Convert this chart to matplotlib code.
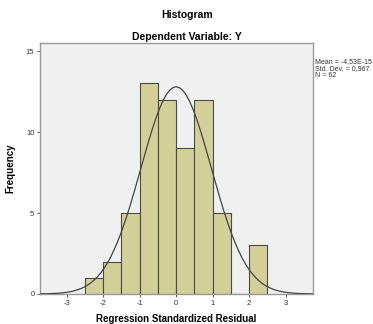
import numpy as np
import matplotlib.pyplot as plt

plt.rcParams['font.family'] = ['Liberation Sans', 'DejaVu Sans']

# histogram of the regression residuals
bin_edges = [-2.5, -2.0, -1.5, -1.0, -0.5, 0.0, 0.5, 1.0, 1.5, 2.0, 2.5]
counts = [1, 2, 5, 13, 12, 9, 12, 5, 0, 3]
mean = -4.53e-15
std = 0.967
n = 62
x_ticks = [-3, -2, -1, 0, 1, 2, 3]
y_ticks = [0, 5, 10, 15]

fig = plt.figure(figsize=(3.73, 3.24), dpi=100)
ax = fig.add_axes([40/373, 1 - 294/324, 273/373, 251/324])
ax.set_facecolor('#f0f0f0')

widths = np.diff(bin_edges)
ax.bar(bin_edges[:-1], counts, width=widths, align='edge',
       color='#d3cf98', edgecolor='#4a4a4a', linewidth=0.8, zorder=2)

# normal curve scaled to the counts
xs = np.linspace(-3.8, 3.8, 400)
bw = widths[0]
ys = n * bw / (std * np.sqrt(2 * np.pi)) * np.exp(-0.5 * ((xs - mean) / std) ** 2)
ax.plot(xs, ys, color='#444444', linewidth=0.9, zorder=3)

ax.set_xlim(-3.73, 3.75)
ax.set_ylim(0, 15.5)
ax.set_xticks(x_ticks)
ax.set_xticklabels([str(t) for t in x_ticks])
ax.set_yticks(y_ticks)
ax.set_yticklabels([str(t) for t in y_ticks])
ax.tick_params(labelsize=5.5, length=2.5, width=0.7, color='#555555',
               labelcolor='#333333', pad=1.5)
for s in ax.spines.values():
    s.set_color('#999999')
    s.set_linewidth(1.0)

ax.set_xlabel('Regression Standardized Residual', fontsize=7, fontweight='bold', labelpad=5)
ax.set_ylabel('Frequency', fontsize=7, fontweight='bold')
ax.yaxis.set_label_coords(-25/273, 0.5)

fig.text(187/373, 1 - 15/324, 'Histogram', ha='center', va='center',
         fontsize=7.5, fontweight='bold')
fig.text(187/373, 1 - 37/324, 'Dependent Variable: Y', ha='center', va='center',
         fontsize=7.5, fontweight='bold')

stats = 'Mean = -4,53E-15\nStd. Dev. = 0,967\nN = 62'
fig.text(315/373, 1 - 58/324, stats, ha='left', va='top', fontsize=5,
         color='#333333', linespacing=1.0)

fig.savefig('out.png', dpi=100)
